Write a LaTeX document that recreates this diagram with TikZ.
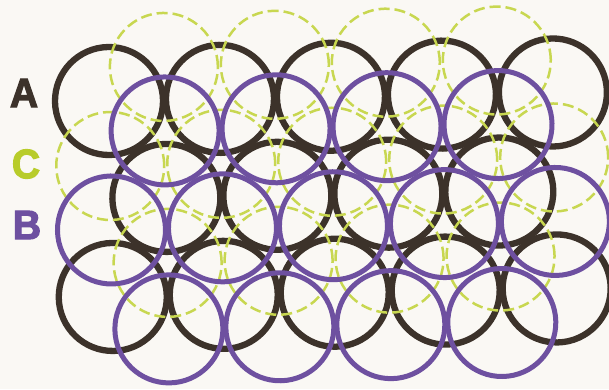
\documentclass[tikz,border=0pt]{standalone}
\usepackage{fontspec}
\newfontfamily\labfont[FakeBold=3]{Liberation Sans Bold}
\definecolor{bgcol}{HTML}{FAF8F4}
\definecolor{ablack}{HTML}{3C322A}
\definecolor{bpurple}{HTML}{6E50A0}
\definecolor{cyellow}{HTML}{C8D750}
\definecolor{clabel}{HTML}{B8CC2A}
\tikzset{
  alayer/.style={draw=ablack, line width=6.3pt},
  blayer/.style={draw=bpurple, line width=5pt},
  clayer/.style={draw=cyellow, line width=2.5pt, dash pattern=on 11pt off 5pt},
  lab/.style={font=\labfont\fontsize{41}{41}\selectfont, inner sep=0pt, anchor=center, xscale=0.95}
}
\begin{document}
\begin{tikzpicture}[x=1pt,y=-1pt]
\fill[bgcol] (0,0) rectangle (609,389);
\useasboundingbox (0,0) rectangle (609,389);
\clip (0,0) rectangle (609,389);
\begin{scope}[shift={(109,101)}, rotate=1.1]
  % layer A (black)
  \foreach \i in {0,...,4} {
    \draw[alayer] (\i*111,0) circle[radius=54pt];
    \draw[alayer] (\i*111,196) circle[radius=54pt];
  }
  \foreach \i in {0,...,3} {
    \draw[alayer] (55.5+\i*111,98) circle[radius=54pt];
  }
  % layer C (yellow dashed)
  \foreach \i in {0,...,3} {
    \draw[clayer] (55.5+\i*111,-33) circle[radius=54pt];
    \draw[clayer] (55.5+\i*111,163) circle[radius=54pt];
  }
  \foreach \i in {0,...,4} {
    \draw[clayer] (\i*111,65) circle[radius=54pt];
  }
  % layer B (purple)
  \foreach \i in {0,...,3} {
    \draw[blayer] (55.5+\i*111,31) circle[radius=54pt];
    \draw[blayer] (55.5+\i*111,229) circle[radius=54pt];
  }
  \foreach \i in {0,...,4} {
    \draw[blayer] (\i*111,129) circle[radius=54pt];
  }
\end{scope}
\node[lab, text=ablack] (labA) at (24,93) {A};
\node[lab, text=clabel] (labC) at (26,164) {C};
\node[lab, text=bpurple] (labB) at (27,225) {B};
\end{tikzpicture}
\end{document}
